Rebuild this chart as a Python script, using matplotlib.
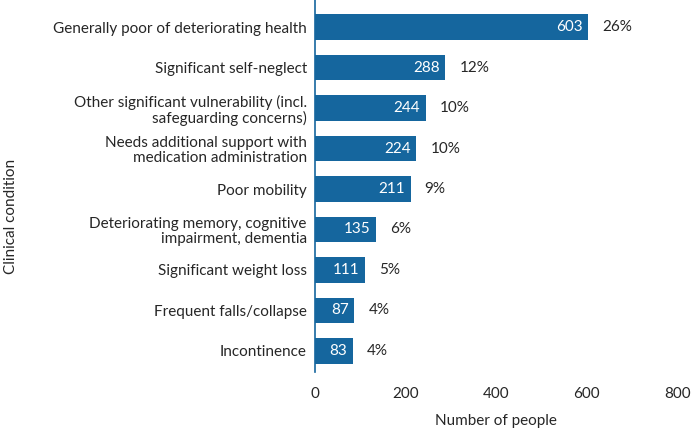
import matplotlib.pyplot as plt

plt.rcParams['font.family'] = ['Lato', 'DejaVu Sans']

conditions = [
    "Generally poor of deteriorating health",
    "Significant self-neglect",
    "Other significant vulnerability (incl.\nsafeguarding concerns)",
    "Needs additional support with\nmedication administration",
    "Poor mobility",
    "Deteriorating memory, cognitive\nimpairment, dementia",
    "Significant weight loss",
    "Frequent falls/collapse",
    "Incontinence",
]
counts = [603, 288, 244, 224, 211, 135, 111, 87, 83]
percents = ["26%", "12%", "10%", "10%", "9%", "6%", "5%", "4%", "4%"]

bar_color = '#15669e'
text_color = '#262626'
fs = 11

fig = plt.figure(figsize=(6.91, 4.32), dpi=100)
ax = fig.add_axes([0.456, 0.139, 0.524, 0.861])

ypos = list(range(len(conditions)))
bars = ax.barh(ypos, counts, height=0.63, color=bar_color)

for y, c, p in zip(ypos, counts, percents):
    ax.annotate(str(c), (c, y), xytext=(-4, 0), textcoords='offset points',
                ha='right', va='center', color='white', fontsize=fs)
    ax.annotate(p, (c, y), xytext=(10, 0), textcoords='offset points',
                ha='left', va='center', color=text_color, fontsize=fs)

ax.set_xlim(0, 800)
ax.set_ylim(8.52, -0.67)
ax.set_xticks([0, 200, 400, 600, 800])
ax.set_yticks(ypos)
ax.set_yticklabels(conditions, linespacing=1.1)
ax.tick_params(axis='both', length=0, labelsize=fs, colors=text_color)
ax.tick_params(axis='x', pad=11)
ax.tick_params(axis='y', pad=6)

for side in ['top', 'right', 'bottom']:
    ax.spines[side].set_visible(False)
ax.spines['left'].set_color(bar_color)
ax.spines['left'].set_linewidth(1.2)

ax.set_xlabel("Number of people", fontsize=fs, color=text_color, labelpad=9)
fig.text(0.016, 0.5, "Clinical condition", rotation=90, ha='center', va='center',
         fontsize=fs, color=text_color)

fig.savefig('out.png', dpi=100)
